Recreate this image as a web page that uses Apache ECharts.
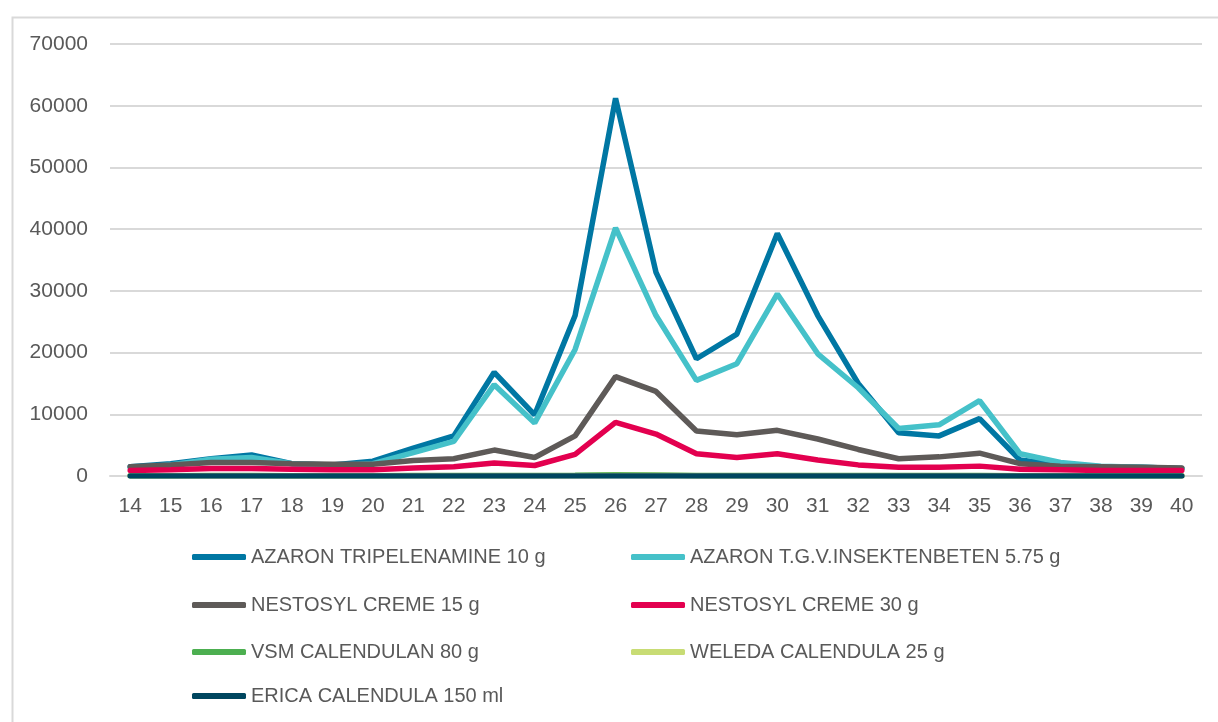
<!DOCTYPE html>
<html>
<head>
<meta charset="utf-8">
<title>Chart</title>
<script src="https://cdn.jsdelivr.net/npm/echarts@6/dist/echarts.min.js"></script>
<style>
	html, body { margin: 0; padding: 0; background: #ffffff; }
	#main { width: 1218px; height: 722px; }
</style>
</head>
<body>
<div id="main"></div>
<script>
// Kalenderwochen
var weeks = ['14','15','16','17','18','19','20','21','22','23','24','25','26','27','28','29','30','31','32','33','34','35','36','37','38','39','40'];

var seriesNames = [
	'AZARON TRIPELENAMINE 10 g',
	'AZARON T.G.V.INSEKTENBETEN 5.75 g',
	'NESTOSYL CREME 15 g',
	'NESTOSYL CREME 30 g',
	'VSM CALENDULAN 80 g',
	'WELEDA CALENDULA 25 g',
	'ERICA CALENDULA 150 ml'
];

var azaronTripel = [1500,2000,2800,3400,2000,1800,2400,4500,6500,16800,9900,26000,61200,33000,19000,23000,39300,26000,15000,7000,6500,9300,2600,1800,1500,1400,1200];
var azaronTgv = [1300,1800,2700,3000,2000,1700,2000,3800,5600,14800,8600,20500,40200,26000,15500,18200,29500,19800,14300,7700,8300,12200,3600,2200,1600,1400,1200];
var nestosyl15 = [1500,1800,2200,2200,2000,1900,1900,2500,2800,4200,3000,6500,16100,13700,7300,6700,7400,6000,4300,2800,3100,3700,2000,1600,1500,1400,1300];
var nestosyl30 = [900,1000,1200,1200,1100,1000,1000,1300,1500,2100,1700,3500,8700,6800,3600,3000,3600,2600,1800,1400,1400,1600,1100,1000,900,900,900];
var vsmCalendulan = [60,60,70,70,60,60,60,70,80,100,90,120,200,150,100,90,100,90,80,70,70,70,60,60,60,60,60];
var weledaCalendula = [40,40,40,40,40,40,40,40,50,50,50,60,80,70,50,50,50,50,40,40,40,40,40,40,40,40,40];
var ericaCalendula = [10,10,10,10,10,10,10,10,10,10,10,10,20,10,10,10,10,10,10,10,10,10,10,10,10,10,10];

var yTicks = [0,10000,20000,30000,40000,50000,60000,70000];

var colors = ['#0077a3','#45c1c9','#5e5a58','#e3004f','#4caf50','#c8dc74','#00465f'];
var seriesData = [azaronTripel, azaronTgv, nestosyl15, nestosyl30, vsmCalendulan, weledaCalendula, ericaCalendula];

$init();

function $init() {
	var chart = echarts.init(document.getElementById('main'));
	var fontFamily = '"Liberation Sans", "DejaVu Sans", sans-serif';
	var textColor = '#595959';

	var series = [];
	for (var i = 0; i < seriesNames.length; i++) {
		series.push({
			name: seriesNames[i],
			type: 'line',
			data: seriesData[i],
			showSymbol: false,
			symbol: 'none',
			lineStyle: { width: 5.5, color: colors[i], cap: 'round' },
			itemStyle: { color: colors[i] },
			emphasis: { disabled: true },
			animation: false
		});
	}

	// Legende: zwei Spalten, ein Eintrag pro legend
	var legendPos = [
		[192, 546], [631, 546],
		[192, 594], [631, 594],
		[192, 641], [631, 641],
		[192, 685]
	];
	var legends = [];
	for (var j = 0; j < seriesNames.length; j++) {
		legends.push({
			data: [seriesNames[j]],
			left: legendPos[j][0],
			top: legendPos[j][1] + 1,
			icon: 'roundRect',
			itemWidth: 54,
			itemHeight: 6,
			padding: 0,
			selectedMode: false,
			textStyle: { color: textColor, fontSize: 20, fontFamily: fontFamily }
		});
	}

	var option = {
		color: colors,
		animation: false,
		grid: { left: 110, right: 16, top: 44, bottom: 246, containLabel: false },
		legend: legends,
		xAxis: {
			type: 'category',
			data: weeks,
			boundaryGap: true,
			axisLine: { show: true, lineStyle: { color: '#d9d9d9', width: 2 } },
			axisTick: { show: false },
			axisLabel: { color: textColor, fontSize: 21, fontFamily: fontFamily, margin: 20 }
		},
		yAxis: {
			type: 'value',
			min: yTicks[0],
			max: yTicks[yTicks.length - 1],
			interval: 10000,
			axisLine: { show: false },
			axisTick: { show: false },
			splitLine: { lineStyle: { color: '#d9d9d9', width: 2 } },
			axisLabel: {
				color: textColor, fontSize: 21, fontFamily: fontFamily, margin: 22,
				formatter: function (v) { return String(v); }
			}
		},
		graphic: [{
			type: 'rect',
			left: 10,
			top: 15,
			shape: { width: 1300, height: 800 },
			style: { fill: 'none', stroke: '#d9d9d9', lineWidth: 2 },
			silent: true
		}],
		series: series
	};
	chart.setOption(option);
}
</script>
</body>
</html>
